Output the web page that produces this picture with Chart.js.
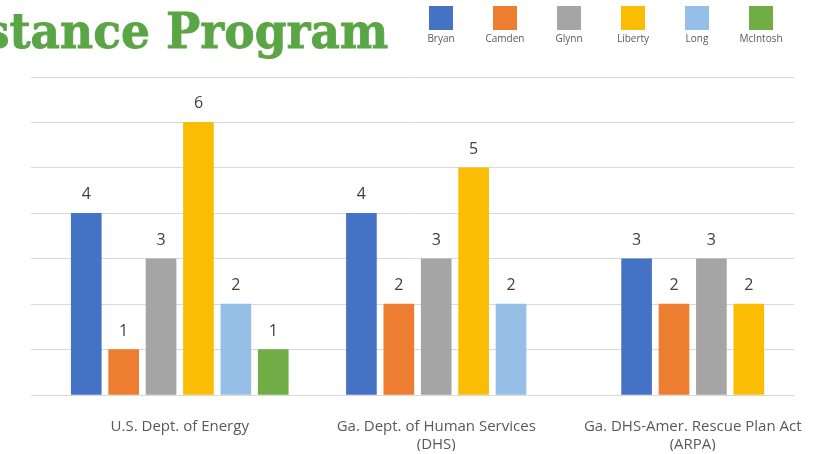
<!DOCTYPE html>
<html>
<head>
<meta charset="utf-8">
<script src="https://cdn.jsdelivr.net/npm/chart.js@4"></script>
<style>
  html, body { margin: 0; padding: 0; background: #fff; overflow: hidden; }
  #wrap { position: relative; width: 824px; height: 454px; }
  #title {
    position: absolute; right: 436px; top: 7px;
    font: bold 48px "DejaVu Serif", serif; line-height: 1;
    color: #5aa545; white-space: nowrap;
    -webkit-text-stroke: 0.8px #5aa545;
    transform: scaleX(0.95); transform-origin: right center;
  }
  canvas { position: absolute; left: 0; top: 0; }
</style>
</head>
<body>
<div id="wrap">
  <canvas id="chart" width="824" height="454"></canvas>
  <div id="title">Assistance Program</div>
</div>
<script>
// data
const categories = [
  ["U.S. Dept. of Energy"],
  ["Ga. Dept. of Human Services", "(DHS)"],
  ["Ga. DHS-Amer. Rescue Plan Act", "(ARPA)"],
];
const counties = ["Bryan", "Camden", "Glynn", "Liberty", "Long", "McIntosh"];
const bryan = [4, 4, 3];
const camden = [1, 2, 2];
const glynn = [3, 3, 3];
const liberty = [6, 5, 2];
const long = [2, 2, null];
const mcintosh = [1, null, null];
const yTicks = [0, 1, 2, 3, 4, 5, 6, 7];

const colors = ["#4472c4", "#ed7d31", "#a5a5a5", "#fbbc04", "#95bfe6", "#70ad47"];
const series = [bryan, camden, glynn, liberty, long, mcintosh];

const labelFont = '"Open Sans", "Noto Sans", sans-serif';

// value labels above bars
const valueLabels = {
  id: "valueLabels",
  afterDatasetsDraw(chart) {
    const ctx = chart.ctx;
    ctx.save();
    ctx.font = "16px " + labelFont;
    ctx.fillStyle = "#404040";
    ctx.textAlign = "center";
    ctx.textBaseline = "middle";
    chart.data.datasets.forEach((ds, i) => {
      const meta = chart.getDatasetMeta(i);
      meta.data.forEach((bar, j) => {
        const v = ds.data[j].y;
        if (v == null) return;
        ctx.fillText(String(Math.round(v)), bar.x, bar.y - 18.5);
      });
    });
    ctx.restore();
  },
};

// legend: square swatch above each name
const boxLegend = {
  id: "boxLegend",
  afterDraw(chart) {
    const ctx = chart.ctx;
    ctx.save();
    chart.data.datasets.forEach((ds, i) => {
      const cx = 441 + i * 64;
      ctx.fillStyle = ds.backgroundColor;
      ctx.fillRect(cx - 12, 6, 24, 24);
      ctx.fillStyle = "#595959";
      ctx.font = "10px " + labelFont;
      ctx.textAlign = "center";
      ctx.textBaseline = "middle";
      ctx.fillText(ds.label, cx, 39.5);
    });
    ctx.restore();
  },
};

const ctx = document.getElementById("chart").getContext("2d");
new Chart(ctx, {
  type: "bar",
  data: {
    datasets: series.map((vals, i) => ({
      label: counties[i],
      data: vals.map((v, j) => ({ x: j, y: v })),
      backgroundColor: colors[i],
      borderWidth: 0,
      barThickness: 37.4,
      maxBarThickness: 30,
      skipNull: true,
    })),
  },
  options: {
    responsive: false,
    animation: false,
    events: [],
    layout: { padding: { left: 31, right: 30, top: 77, bottom: 3 } },
    plugins: {
      legend: { display: false },
      tooltip: { enabled: false },
    },
    scales: {
      x: {
        type: "linear",
        offset: false,
        min: -0.58,
        max: 2.395,
        grid: { display: false, drawTicks: false },
        border: { display: false },
        afterBuildTicks: (axis) => {
          axis.ticks = categories.map((c, i) => ({ value: i }));
        },
        afterFit: (axis) => {
          axis.height = 56;
          axis.paddingLeft = 0;
          axis.paddingRight = 0;
        },
        ticks: {
          autoSkip: false,
          maxRotation: 0,
          padding: 23,
          color: "#595959",
          font: { family: labelFont, size: 15, lineHeight: 1.2 },
          callback: (v) => categories[v],
        },
      },
      y: {
        min: yTicks[0],
        max: yTicks[yTicks.length - 1],
        afterBuildTicks: (axis) => {
          axis.ticks = yTicks.map((v) => ({ value: v }));
        },
        ticks: { display: false },
        border: { display: false },
        grid: { color: "#d9d9d9", lineWidth: 1, drawTicks: false },
      },
    },
  },
  plugins: [valueLabels, boxLegend],
});
</script>
</body>
</html>
